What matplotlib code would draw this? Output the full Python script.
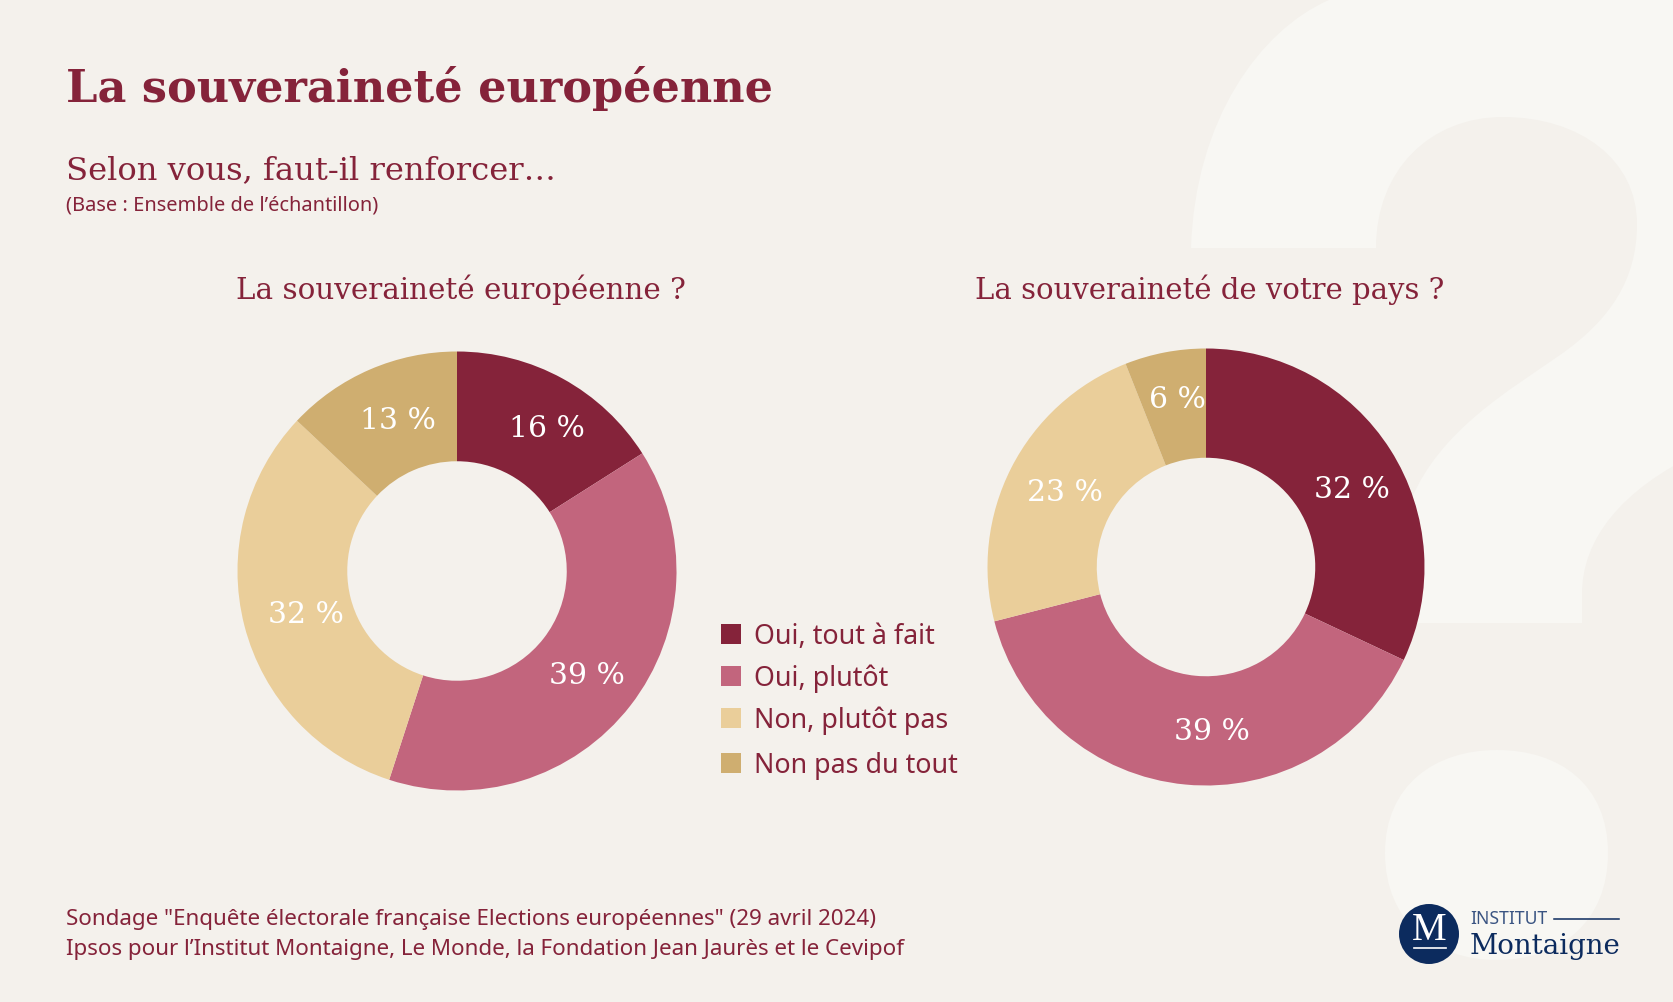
import matplotlib
matplotlib.use("Agg")
import matplotlib.pyplot as plt
from matplotlib.font_manager import FontProperties
from matplotlib.patches import Circle, PathPatch, Rectangle
from matplotlib.path import Path
from matplotlib.textpath import TextPath

W, H = 1674, 1002
SERIF = "DejaVu Serif"
SANS = "Noto Sans"

BG = "#F4F1EC"
GHOST = "#F8F7F3"
WINE = "#85233A"
NAVY = "#0C2B5E"

categories = ["Oui, tout à fait", "Oui, plutôt", "Non, plutôt pas", "Non pas du tout"]
colors = ["#85233A", "#C2657D", "#EACE9A", "#CFAE70"]
europe_values = [16, 39, 32, 13]
pays_values = [32, 39, 23, 6]

# hand placed in the original, so not at the slice centres
europe_label_xy = [(547, 429), (587, 676), (306, 615), (398, 421)]
pays_label_xy = [(1352, 490), (1212, 732), (1065, 493), (1177, 400)]
legend_y = [634, 676, 718, 763]


def fit(text, width, family=SANS, weight="normal"):
    # font size in points that makes the text the given pixel width
    fp = FontProperties(family=family, weight=weight)
    w = TextPath((0, 0), text, size=10, prop=fp).get_extents().width
    return 10 * width / w * 72 / 100


def put(ax, x, y, text, width, family=SANS, weight="normal", color=WINE, ha="left", va="center"):
    ax.text(x, y, text, fontsize=fit(text, width, family, weight), family=family,
            weight=weight, color=color, ha=ha, va=va)


def donut(cx, cy, r, values):
    ax = fig.add_axes([(cx - r) / W, 1 - (cy + r) / H, 2 * r / W, 2 * r / H], zorder=2)
    ax.pie(values, colors=colors, startangle=90, counterclock=False,
           wedgeprops={"width": 0.5, "linewidth": 0})
    ax.set_xlim(-1, 1)
    ax.set_ylim(-1, 1)
    return ax


fig = plt.figure(figsize=(W / 100, H / 100), dpi=100, facecolor=BG)

# big pale question mark behind everything
back = fig.add_axes([0, 0, 1, 1], zorder=1)
back.set_xlim(0, W)
back.set_ylim(H, 0)
back.axis("off")
M, C, L, Z = Path.MOVETO, Path.CURVE4, Path.LINETO, Path.CLOSEPOLY
verts = [
    ((1191, 248), M),
    ((1195, 120), C), ((1260, 30), C), ((1329, 0), C),
    ((1700, -40), L), ((1700, 452), L),
    ((1620, 490), C), ((1582, 540), C), ((1582, 594), C),
    ((1582, 623), L), ((1415, 623), L), ((1411, 500), L),
    ((1440, 430), C), ((1510, 390), C), ((1560, 355), C),
    ((1610, 320), C), ((1637, 280), C), ((1637, 224), C),
    ((1637, 160), C), ((1580, 117), C), ((1503, 117), C),
    ((1430, 117), C), ((1376, 170), C), ((1376, 248), C),
    ((1191, 248), Z),
]
back.add_patch(PathPatch(Path([v[0] for v in verts], [v[1] for v in verts]), fc=GHOST, ec="none"))
dot = [
    ((1385, 853), M),
    ((1385, 785), C), ((1435, 750), C), ((1497, 750), C),
    ((1560, 750), C), ((1608, 785), C), ((1608, 853), C),
    ((1608, 922), C), ((1560, 960), C), ((1497, 960), C),
    ((1435, 960), C), ((1385, 922), C), ((1385, 853), C),
    ((1385, 853), Z),
]
back.add_patch(PathPatch(Path([v[0] for v in dot], [v[1] for v in dot]), fc=GHOST, ec="none"))

donut(457, 571, 219.5, europe_values)
donut(1206, 567, 218.5, pays_values)

top = fig.add_axes([0, 0, 1, 1], zorder=3)
top.set_xlim(0, W)
top.set_ylim(H, 0)
top.axis("off")
top.patch.set_alpha(0)

put(top, 66, 88, "La souveraineté européenne", 703, SERIF, "bold")
put(top, 66, 171, "Selon vous, faut-il renforcer…", 485, SERIF)
put(top, 66, 205, "(Base : Ensemble de l’échantillon)", 310)
put(top, 461, 290, "La souveraineté européenne ?", 446, SERIF, ha="center")
put(top, 1210, 290, "La souveraineté de votre pays ?", 466, SERIF, ha="center")

for values, positions in [(europe_values, europe_label_xy), (pays_values, pays_label_xy)]:
    for v, (x, y) in zip(values, positions):
        top.text(x, y, f"{v} %", fontsize=21.5, family=SERIF, color="white", ha="center", va="center")

legend_size = fit(categories[3], 201)
for name, col, y in zip(categories, colors, legend_y):
    top.add_patch(Rectangle((721, y - 10.5), 20, 20.5, fc=col, ec="none"))
    top.text(754, y + 2.5, name, fontsize=legend_size, family=SANS, color=WINE, va="center")

put(top, 66, 920, "Sondage \"Enquête électorale française Elections européennes\" (29 avril 2024)", 809)
put(top, 66, 950, "Ipsos pour l’Institut Montaigne, Le Monde, la Fondation Jean Jaurès et le Cevipof", 839)

# logo
top.add_patch(Circle((1429, 934), 30, fc=NAVY, ec="none"))
top.text(1429, 931, "M", fontsize=28, family="Liberation Serif", color="white", ha="center", va="center")
top.plot([1414, 1446], [948, 948], color="white", lw=1.2)
put(top, 1470, 919, "INSTITUT", 76, color="#3A5482")
top.plot([1554, 1619], [919, 919], color=NAVY, lw=1.1)
put(top, 1470, 946, "Montaigne", 148, SERIF, color=NAVY)

fig.savefig("out.png", dpi=100, facecolor=BG)
